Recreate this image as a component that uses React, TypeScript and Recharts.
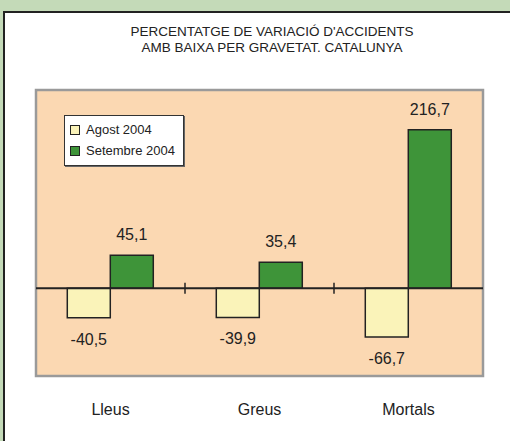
import React from "react";
import {
  BarChart,
  Bar,
  XAxis,
  YAxis,
  Legend,
  LabelList,
  ReferenceArea,
  ReferenceLine,
} from "recharts";

// Data
const categories = ["Lleus", "Greus", "Mortals"];
const agost2004 = [-40.5, -39.9, -66.7];
const setembre2004 = [45.1, 35.4, 216.7];
const seriesNames = ["Agost 2004", "Setembre 2004"];
const titleLines = [
  "PERCENTATGE DE VARIACIÓ D'ACCIDENTS",
  "AMB BAIXA PER GRAVETAT. CATALUNYA",
];

const Y_MIN = -120;
const Y_MAX = 271;

const COLORS = {
  agost: "#faf3b9",
  setembre: "#3e9439",
  plot: "#fbd8b2",
  outer: "#c4dab8",
  ink: "#222222",
};

const FONT = '"Liberation Sans", Arial, Helvetica, sans-serif';

const data = categories.map((name, i) => ({
  name,
  agost: agost2004[i],
  setembre: setembre2004[i],
}));

const fmt = (v: number) => v.toFixed(1).replace(".", ",");

// value label above positive bars, below negative ones
const ValueLabel = (props: any) => {
  const { x, y, width, height, value } = props;
  const top = Math.min(y, y + height);
  const bottom = Math.max(y, y + height);
  const cx = x + width / 2;
  const ty = value >= 0 ? top - 15 : bottom + 27;
  return (
    <text
      x={cx}
      y={ty}
      textAnchor="middle"
      fontSize={16}
      fontFamily={FONT}
      fill={COLORS.ink}
    >
      {fmt(value)}
    </text>
  );
};

// zero line with small ticks at category boundaries
const ZeroLine = (props: any) => {
  const { x1, y1, x2 } = props;
  const step = (x2 - x1) / categories.length;
  const ticks = categories.slice(1).map((_, i) => x1 + step * (i + 1));
  return (
    <g>
      <line x1={x1} y1={y1} x2={x2} y2={y1} stroke={COLORS.ink} strokeWidth={2} />
      {ticks.map((tx) => (
        <line
          key={tx}
          x1={tx}
          y1={y1 - 5.5}
          x2={tx}
          y2={y1 + 5.5}
          stroke={COLORS.ink}
          strokeWidth={1.5}
        />
      ))}
    </g>
  );
};

const CategoryTick = (props: any) => {
  const { x, y, payload } = props;
  return (
    <text
      x={x}
      y={y}
      dy={39}
      textAnchor="middle"
      fontSize={16}
      fontFamily={FONT}
      fill={COLORS.ink}
    >
      {payload.value}
    </text>
  );
};

const LegendBox = () => {
  const swatches = [COLORS.agost, COLORS.setembre];
  return (
    <div
      style={{
        width: 118,
        height: 46,
        background: "#fff",
        border: "1px solid #333",
        boxShadow: "1px 1px 0 #666",
        boxSizing: "content-box",
        fontFamily: FONT,
        fontSize: 13,
        color: COLORS.ink,
        paddingTop: 3,
      }}
    >
      {seriesNames.map((n, i) => (
        <div
          key={n}
          style={{ display: "flex", alignItems: "center", height: 21, paddingLeft: 5 }}
        >
          <span
            style={{
              display: "inline-block",
              width: 8,
              height: 8,
              background: swatches[i],
              border: "1.5px solid #222",
              marginRight: 6,
            }}
          />
          {n}
        </div>
      ))}
    </div>
  );
};

export default function App() {
  return (
    <div
      style={{
        position: "absolute",
        left: 0,
        top: 0,
        width: 510,
        height: 441,
        background: COLORS.outer,
        overflow: "hidden",
        fontFamily: FONT,
      }}
    >
      <div
        style={{
          position: "absolute",
          left: 3,
          top: 11,
          width: 600,
          height: 500,
          background: "#fff",
          border: "2px solid #222",
        }}
      />
      <div
        style={{
          position: "absolute",
          left: 0,
          width: 544,
          top: 24,
          textAlign: "center",
          fontSize: 13.5,
          lineHeight: "16px",
          color: COLORS.ink,
        }}
      >
        {titleLines.map((t) => (
          <div key={t}>{t}</div>
        ))}
      </div>
      <div style={{ position: "absolute", left: 0, top: 0 }}>
        <BarChart
          width={510}
          height={441}
          data={data}
          margin={{ top: 90, right: 27, bottom: 35, left: 36 }}
          barCategoryGap="21%"
          barGap={0}
        >
          <ReferenceArea
            y1={Y_MIN}
            y2={Y_MAX}
            fill={COLORS.plot}
            fillOpacity={1}
            stroke="#9a9a9a"
            strokeWidth={2.5}
          />
          <XAxis
            dataKey="name"
            height={30}
            axisLine={false}
            tickLine={false}
            tickSize={0}
            tickMargin={0}
            tick={<CategoryTick />}
            interval={0}
          />
          <YAxis hide domain={[Y_MIN, Y_MAX]} allowDataOverflow />
          <Legend
            layout="horizontal"
            verticalAlign="middle"
            content={<LegendBox />}
            wrapperStyle={{ left: 64, top: 115, width: "auto", height: "auto" }}
          />
          <Bar
            dataKey="agost"
            name={seriesNames[0]}
            fill={COLORS.agost}
            stroke={COLORS.ink}
            strokeWidth={1.5}
            isAnimationActive={false}
          >
            <LabelList dataKey="agost" content={<ValueLabel />} />
          </Bar>
          <Bar
            dataKey="setembre"
            name={seriesNames[1]}
            fill={COLORS.setembre}
            stroke={COLORS.ink}
            strokeWidth={1.5}
            isAnimationActive={false}
          >
            <LabelList dataKey="setembre" content={<ValueLabel />} />
          </Bar>
          <ReferenceLine y={0} shape={<ZeroLine />} />
        </BarChart>
      </div>
    </div>
  );
}
